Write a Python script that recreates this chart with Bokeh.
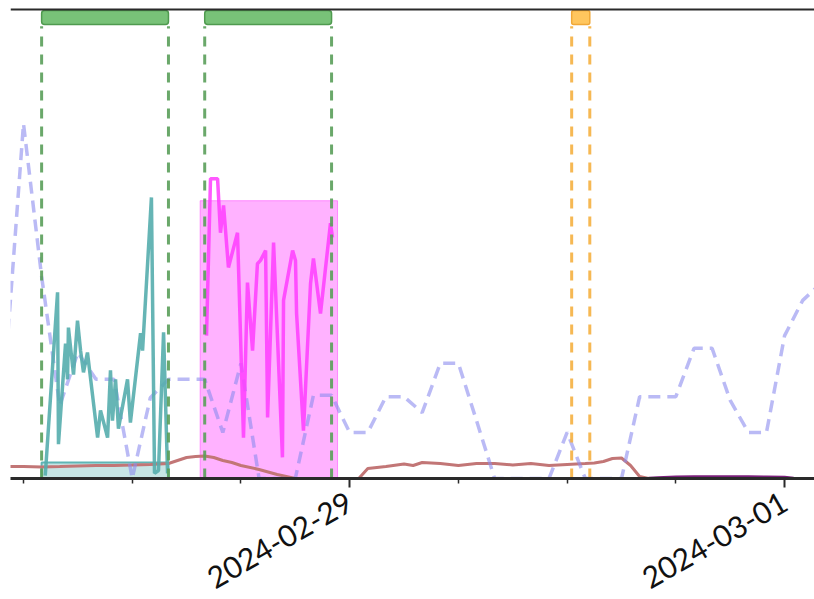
import math
from bokeh.plotting import figure
from bokeh.models import Range1d, FixedTicker, Span, DatetimeTickFormatter
from bokeh.embed import file_html
from bokeh.resources import INLINE

# ---- data (hours since 2024-02-28 00:00 UTC) ----
BASE_MS = 1709078400000  # 2024-02-28 00:00 UTC
HOUR_MS = 3600000

green_starts = [7.0, 16.0]
green_ends = [14.0, 23.0]
orange_starts = [36.25]
orange_ends = [37.25]

teal_box = {"start": 7.0, "end": 14.0, "level": 3.4}
magenta_box = {"start": 15.75, "end": 23.33, "level": 59.1}

lav_hours = list(range(5, 51))
lav_vals = [23.4, 75.5, 43.0, 15.5, 26.8, 21.1, 21.1, 0, 17.2, 21.1, 21.1, 21.1,
            9.8, 24.5, 0, 0, 0, 17.7, 17.7, 9.8, 9.8, 17.4, 17.4, 14.0, 24.5,
            24.5, 12.3, 0, 0, 0, 0, 9.8, 0, 0, 0, 17.4, 17.4, 17.4, 27.7, 27.7,
            16.6, 9.8, 9.8, 30.4, 37.9, 41.5]

teal_hours = [7.2, 7.88, 7.93, 8.32, 8.43, 8.48, 8.76, 8.98, 9.15, 9.31, 9.53,
              10.09, 10.25, 10.64, 10.8, 10.91, 11.08, 11.24, 11.74, 11.9,
              12.46, 12.57, 13.06, 13.23, 13.45, 13.73, 13.95]
teal_vals = [0.6, 39.6, 7.3, 28.7, 21.1, 32.1, 22.1, 33.6, 27.2, 22.6, 26.8,
             8.7, 14.5, 8.7, 23.0, 12.3, 21.1, 10.6, 21.1, 11.9,
             30.9, 27.2, 59.8, 1.1, 1.7, 31.1, 1.1]

mag_hours = [16.1, 16.32, 16.71, 16.87, 17.04, 17.31, 17.81, 18.14, 18.36, 18.64,
             18.91, 19.08, 19.36, 19.47, 19.8, 20.29, 20.35, 20.85, 21.01, 21.07,
             21.45, 21.84, 22.0, 22.39, 22.94, 23.05]
mag_vals = [30.4, 63.8, 63.8, 52.3, 58.1, 44.9, 52.3, 8.7, 41.7, 27.2,
            45.7, 46.4, 48.5, 13.0, 50.2, 4.5, 37.9, 48.5, 46.4, 35.1,
            10.2, 41.5, 46.8, 35.1, 54.3, 51.3]

brown_hours = [5, 6, 7, 8, 9, 10, 11, 12, 13, 14, 15, 15.5, 16, 16.5, 17, 17.5,
               18, 19, 20, 21, 22, 23, 24, 24.5, 25, 26, 27, 27.5, 28, 29, 30,
               31, 32, 33, 34, 35, 36, 37, 37.5, 38, 38.5, 39, 39.5, 40, 40.5]
brown_vals = [2.55, 2.55, 2.45, 2.55, 2.66, 2.77, 2.77, 2.87, 2.98, 3.19, 4.47,
              4.68, 4.79, 4.47, 3.83, 3.4, 2.77, 1.91, 0.85, 0, 0, 0, 0, 0,
              2.13, 2.55, 3.08, 2.77, 3.4, 3.19, 2.77, 3.19, 3.19, 2.87, 3.19,
              2.77, 2.98, 3.19, 3.3, 3.62, 4.26, 4.36, 2.77, 0.43, 0]

purple_hours = [40.5, 41, 42, 43, 44, 45, 46, 47, 48, 48.5]
purple_vals = [0.1, 0.2, 0.35, 0.45, 0.4, 0.45, 0.4, 0.35, 0.3, 0.1]

major_days = ["2024-02-29", "2024-03-01"]
major_hours = [24, 48]
minor_hours = [6, 12, 18, 30, 36, 42]

x_start_h, x_end_h = 5.283, 49.65
y_max = 100.0


def ms(hours):
    return [BASE_MS + h * HOUR_MS for h in hours]


p = figure(frame_width=804, frame_height=470, output_backend="svg",
           toolbar_location=None, x_axis_type="datetime", y_axis_location=None,
           x_range=Range1d(ms([x_start_h])[0], ms([x_end_h])[0]),
           y_range=Range1d(0, y_max),
           min_border_left=10, min_border_right=0, min_border_top=8,
           min_border_bottom=0, background_fill_color="white",
           border_fill_color="white")
p.outline_line_color = None
p.xgrid.grid_line_color = None
p.ygrid.grid_line_color = None

# boxes
p.quad(left=ms([magenta_box["start"]]), right=ms([magenta_box["end"]]),
       bottom=[0], top=[magenta_box["level"]], fill_color="#ff66ff",
       fill_alpha=0.5, line_color="#ff55ff", line_alpha=0.6, line_width=1)
p.quad(left=ms([teal_box["start"]]), right=ms([teal_box["end"]]),
       bottom=[0], top=[teal_box["level"]], fill_color="#5fb5b5",
       fill_alpha=0.35, line_color="#5fb5b5", line_width=2)

# lines
p.line(ms(brown_hours), brown_vals, line_color="#c27676", line_width=3)
p.line(ms(purple_hours), purple_vals, line_color="#7a1f7a", line_width=2.5)
p.line(ms(lav_hours), lav_vals, line_color="#8c8cee", line_alpha=0.6,
       line_width=3.5, line_dash="12 7")
p.line(ms(teal_hours), teal_vals, line_color="#55adad", line_width=3.5,
       line_alpha=0.9)
p.line(ms(mag_hours), mag_vals, line_color="#ff3cff", line_width=3.5,
       line_alpha=0.85)

# span boundaries
green_edges = green_starts + green_ends
p.segment(x0=ms(green_edges), x1=ms(green_edges), y0=[0] * len(green_edges),
          y1=[96.2] * len(green_edges), line_color="#5a9f5a", line_width=3,
          line_dash="10 8", line_alpha=0.9)
orange_edges = orange_starts + orange_ends
p.segment(x0=ms(orange_edges), x1=ms(orange_edges), y0=[0] * len(orange_edges),
          y1=[96.2] * len(orange_edges), line_color="#f5b040", line_width=3,
          line_dash="10 8", line_alpha=0.9)

# top markers
p.quad(left=ms(green_starts), right=ms(green_ends), bottom=[96.6] * 2,
       top=[99.6] * 2, fill_color="#78c278", line_color="#4f9a4f",
       line_width=1.5, border_radius=3)
p.quad(left=ms(orange_starts), right=ms(orange_ends), bottom=[96.6],
       top=[99.6], fill_color="#ffc65e", line_color="#f0a838",
       line_width=1.5, border_radius=2)

# top spine
p.add_layout(Span(location=99.9, dimension="width", line_color="#2a2a2a",
                  line_width=3))

# x axis
ax = p.xaxis[0]
ax.ticker = FixedTicker(ticks=ms(major_hours), minor_ticks=ms(minor_hours))
fmt = "%Y-%m-%d"
ax.formatter = DatetimeTickFormatter(days=fmt, hours=fmt, hourmin=fmt,
                                     minutes=fmt, months=fmt, years=fmt,
                                     seconds=fmt, minsec=fmt, milliseconds=fmt,
                                     microseconds=fmt)
ax.major_label_orientation = math.pi / 6
ax.major_label_text_font = "Lato"
ax.major_label_text_font_size = "30px"
ax.major_label_text_color = "#111111"
ax.axis_line_color = "#2a2a2a"
ax.axis_line_width = 3
ax.major_tick_line_color = "#2a2a2a"
ax.major_tick_line_width = 2
ax.major_tick_out = 9
ax.major_tick_in = 0
ax.minor_tick_line_color = "#2a2a2a"
ax.minor_tick_line_width = 1.5
ax.minor_tick_out = 5
ax.minor_tick_in = 0
ax.major_label_standoff = 12

open("out.html", "w").write(file_html(p, INLINE))
